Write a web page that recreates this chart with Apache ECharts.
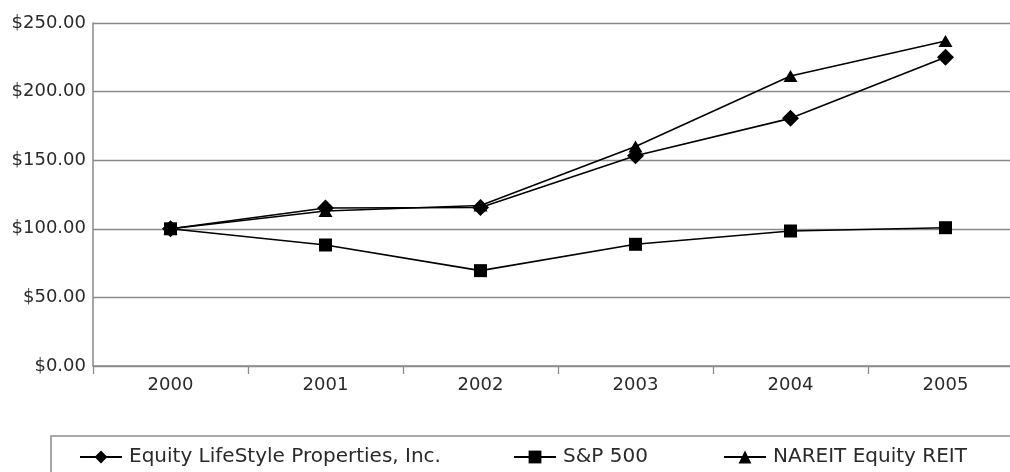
<!DOCTYPE html>
<html>
<head>
<meta charset="utf-8">
<script src="https://cdn.jsdelivr.net/npm/echarts@6/dist/echarts.min.js"></script>
<style>
html,body{margin:0;padding:0;background:#fff;}
#main{width:1010px;height:472px;}
</style>
</head>
<body>
<div id="main"></div>
<script>
const years = ['2000','2001','2002','2003','2004','2005'];
const elsValues = [100, 115.2, 115.5, 153.3, 180.5, 225.0];
const spValues = [100, 88.2, 69.5, 88.7, 98.4, 100.8];
const nareitValues = [100, 113.0, 117.0, 160.0, 211.4, 236.9];
const seriesNames = ['Equity LifeStyle Properties, Inc.', 'S&P 500', 'NAREIT Equity REIT'];
const yTicks = [0, 50, 100, 150, 200, 250];

const FONT = '"DejaVu Sans", "Liberation Sans", Arial, sans-serif';
const TXT = '#2a2a2a';
const GRIDC = '#8a8a8a';

const chart = echarts.init(document.getElementById('main'), null, {renderer:'canvas'});

function legendAt(left, name) {
  return {
    show: true,
    data: [name],
    left: left,
    top: 447,
    orient: 'horizontal',
    itemWidth: 42,
    itemHeight: 16,
    itemGap: 0,
    padding: 0,
    textStyle: {fontFamily: FONT, fontSize: 20, color: TXT, padding: [0,0,0,2]},
    selectedMode: false
  };
}

const option = {
  animation: false,
  backgroundColor: '#fff',
  grid: {left: 93, width: 930, top: 23, bottom: 106, containLabel: false, outerBoundsMode: 'none'},
  legend: [
    legendAt(79, seriesNames[0]),
    legendAt(513, seriesNames[1]),
    legendAt(723, seriesNames[2])
  ],
  graphic: [{
    type: 'rect',
    shape: {x: 51, y: 436, width: 1010, height: 60},
    style: {fill: 'none', stroke: GRIDC, lineWidth: 1.5},
    silent: true, z: 0
  }],
  xAxis: {
    type: 'category',
    data: years,
    boundaryGap: true,
    axisLine: {show: true, lineStyle: {color: GRIDC, width: 1.5}},
    axisTick: {show: true, length: 8, alignWithLabel: false, lineStyle: {color: GRIDC, width: 1.3}},
    axisLabel: {fontFamily: FONT, fontSize: 18, color: TXT, margin: 10},
    splitLine: {show: false}
  },
  yAxis: {
    type: 'value',
    min: 0, max: 250, interval: 50,
    axisLine: {show: true, lineStyle: {color: GRIDC, width: 1.5}},
    axisTick: {show: false},
    axisLabel: {
      fontFamily: FONT, fontSize: 18, color: TXT, margin: 7,
      formatter: v => yTicks.includes(v) ? '$' + v.toFixed(2) : ''
    },
    splitLine: {show: true, lineStyle: {color: GRIDC, width: 1.3}}
  },
  series: [
    {
      name: seriesNames[0], type: 'line', data: elsValues,
      symbol: 'diamond', symbolSize: 17,
      lineStyle: {color: '#000', width: 1.6},
      itemStyle: {color: '#000'}, z: 3
    },
    {
      name: seriesNames[1], type: 'line', data: spValues,
      symbol: 'rect', symbolSize: 13,
      lineStyle: {color: '#000', width: 1.6},
      itemStyle: {color: '#000'}, z: 2
    },
    {
      name: seriesNames[2], type: 'line', data: nareitValues,
      symbol: 'triangle', symbolSize: [14, 12],
      lineStyle: {color: '#000', width: 1.6},
      itemStyle: {color: '#000'}, z: 2
    }
  ]
};
chart.setOption(option);
</script>
</body>
</html>
